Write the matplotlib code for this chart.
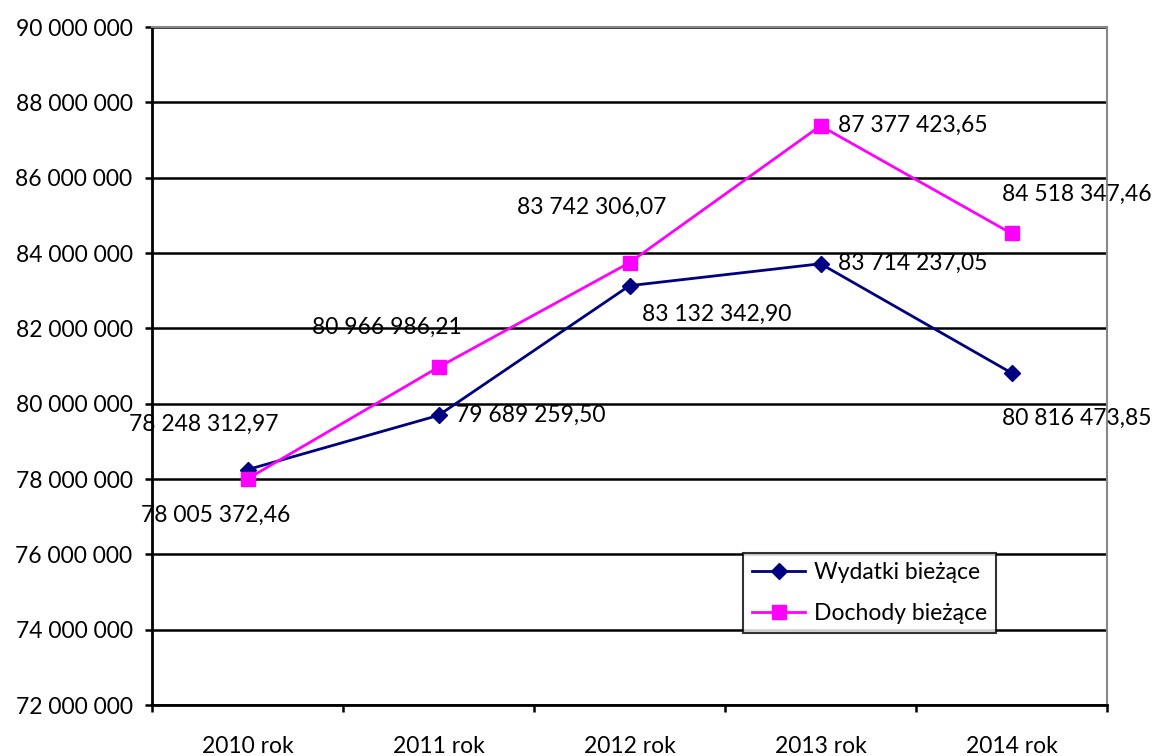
import numpy as np
import matplotlib.pyplot as plt
from matplotlib.ticker import FuncFormatter

plt.rcParams['font.family'] = ['Lato', 'DejaVu Sans']

years = ['2010 rok', '2011 rok', '2012 rok', '2013 rok', '2014 rok']
wydatki = [78248312.97, 79689259.50, 83132342.90, 83714237.05, 80816473.85]
dochody = [78005372.46, 80966986.21, 83742306.07, 87377423.65, 84518347.46]
wyd_labels = ['78 248 312,97', '79 689 259,50', '83 132 342,90', '83 714 237,05', '80 816 473,85']
doch_labels = ['78 005 372,46', '80 966 986,21', '83 742 306,07', '87 377 423,65', '84 518 347,46']

# label offsets in pixels (dx, dy, ha)
wyd_off = [(-44, 45, 'center'), (18, 0, 'left'), (13, -29, 'left'), (18, 0, 'left'), (65, -45, 'center')]
doch_off = [(-32, -37, 'center'), (-52, 40, 'center'), (-38, 55, 'center'), (18, 0, 'left'), (65, 39, 'center')]

fs = 16.5

fig = plt.figure(figsize=(11.57, 7.56), dpi=100)
ax = fig.add_axes([152/1157, 1-705/756, 955/1157, 678/756])

x = np.arange(len(years))
ax.plot(x, wydatki, color='#000080', lw=2, marker='D', ms=8, label='Wydatki bieżące', zorder=3)
ax.plot(x, dochody, color='#FF00FF', lw=2, marker='s', ms=9.5, label='Dochody bieżące', zorder=3)

for i in range(len(x)):
    dx, dy, ha = wyd_off[i]
    ax.annotate(wyd_labels[i], (x[i], wydatki[i]), xytext=(dx, dy), textcoords='offset pixels',
                ha=ha, va='center', fontsize=fs, zorder=5, annotation_clip=False)
    dx, dy, ha = doch_off[i]
    ax.annotate(doch_labels[i], (x[i], dochody[i]), xytext=(dx, dy), textcoords='offset pixels',
                ha=ha, va='center', fontsize=fs, zorder=5, annotation_clip=False)

ax.set_xlim(-0.5, 4.5)
ax.set_ylim(72000000, 90000000)
ax.set_yticks(np.arange(72000000, 90000001, 2000000))
ax.yaxis.set_major_formatter(FuncFormatter(lambda v, p: '{:,.0f}'.format(v).replace(',', ' ')))
ax.set_xticks(x)
ax.set_xticklabels(years)
ax.set_xticks(np.arange(-0.5, 4.6, 1), minor=True)
ax.tick_params(axis='x', which='major', length=0, pad=22, labelsize=fs)
ax.tick_params(axis='x', which='minor', length=5, width=1.8, direction='out')
ax.tick_params(axis='y', length=5, width=1.8, direction='out', labelsize=fs, pad=9)
ax.grid(axis='y', color='black', lw=1.8)
ax.set_axisbelow(True)
for s in ['top', 'right']:
    ax.spines[s].set_color('#888888')
    ax.spines[s].set_linewidth(1.5)
for s in ['left', 'bottom']:
    ax.spines[s].set_linewidth(2)

leg = ax.legend(loc='upper left', bbox_to_anchor=(591/955, (705-553)/678), fontsize=fs,
                frameon=True, fancybox=False, edgecolor='black', handlelength=2.3,
                handletextpad=0.4, borderpad=0.4, labelspacing=0.85, borderaxespad=0)
leg.get_frame().set_linewidth(1.5)

fig.savefig('out.png', dpi=100)
